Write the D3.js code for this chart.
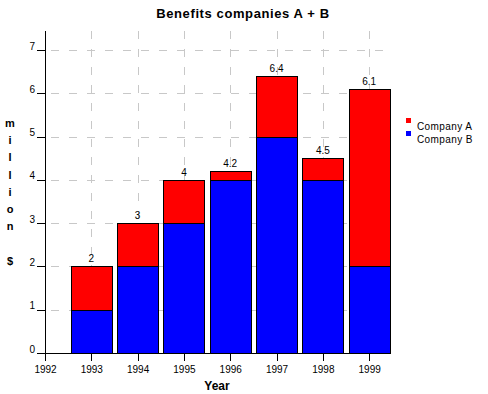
<!DOCTYPE html>
<html lang="en">
<head>
<meta charset="utf-8" />
<title>Benefits companies A + B</title>
<script src="https://cdn.jsdelivr.net/npm/d3@7"></script>
<style>
    body { margin: 0; background: #fff; }
    svg { display: block; font-family: "Liberation Sans", Arial, sans-serif; }
    .axis path, .axis line { stroke: #000; shape-rendering: crispEdges; }
    .axis text { font-size: 10px; fill: #000; }
    .grid line { stroke: #c8c8c8; stroke-dasharray: 8,10; shape-rendering: crispEdges; }
</style>
</head>
<body>
<svg id="chart" width="488" height="394"></svg>
<script>
// chart data
const years = [1993, 1994, 1995, 1996, 1997, 1998, 1999];
const companyB = [1, 2, 3, 4, 5, 4, 2];
const companyA = [1, 1, 1, 0.2, 1.4, 0.5, 4.1];
const totalLabels = ["2", "3", "4", "4.2", "6.4", "4.5", "6.1"];
const yTicks = [0, 1, 2, 3, 4, 5, 6, 7];
const xTicks = [1992, 1993, 1994, 1995, 1996, 1997, 1998, 1999];
const seriesNames = ["Company A", "Company B"];
const seriesColors = ["#ff0000", "#0000ff"];

const svg = d3.select("#chart");

const x = d3.scaleLinear().domain([1992, 1999.45]).range([45, 390]);
const y = d3.scaleLinear().domain([0, 7]).range([353, 50]);
const bw = (x(1993) - x(1992)) * 0.885;
const axisTop = 31;

// grid (dashed, light gray)
const grid = svg.append("g").attr("class", "grid");
grid.selectAll(".h").data(yTicks.slice(1)).enter().append("line")
    .attr("x1", x(1992)).attr("x2", x.range()[1])
    .attr("y1", d => Math.round(y(d)) + 0.5).attr("y2", d => Math.round(y(d)) + 0.5)
    .attr("stroke-dashoffset", -6);
grid.selectAll(".v").data(xTicks.slice(1)).enter().append("line")
    .attr("x1", d => Math.round(x(d)) + 0.5).attr("x2", d => Math.round(x(d)) + 0.5)
    .attr("y1", axisTop).attr("y2", y(0));

// stacked bars
const rows = years.map((yr, i) => ({ yr, b: companyB[i], a: companyA[i], label: totalLabels[i] }));
const bars = svg.append("g");
bars.selectAll(".b").data(rows).enter().append("rect")
    .attr("x", d => Math.round(x(d.yr) - bw / 2) + 0.5)
    .attr("width", Math.round(bw))
    .attr("y", d => Math.round(y(d.b)) + 0.5)
    .attr("height", d => Math.round(y(0)) - Math.round(y(d.b)))
    .attr("fill", seriesColors[1]).attr("stroke", "#000").attr("shape-rendering", "crispEdges");
bars.selectAll(".a").data(rows).enter().append("rect")
    .attr("x", d => Math.round(x(d.yr) - bw / 2) + 0.5)
    .attr("width", Math.round(bw))
    .attr("y", d => Math.round(y(d.b + d.a)) + 0.5)
    .attr("height", d => Math.round(y(d.b)) - Math.round(y(d.b + d.a)))
    .attr("fill", seriesColors[0]).attr("stroke", "#000").attr("shape-rendering", "crispEdges");
bars.selectAll("text").data(rows).enter().append("text")
    .attr("x", d => x(d.yr))
    .attr("y", d => y(d.b + d.a) - 4)
    .attr("text-anchor", "middle")
    .attr("font-size", 10)
    .text(d => d.label);

// axes
const xAxis = svg.append("g").attr("class", "axis")
    .attr("transform", `translate(0,${Math.round(y(0))})`)
    .call(d3.axisBottom(x).tickValues(xTicks).tickFormat(d3.format("d")).tickSize(8).tickSizeOuter(0));
xAxis.select(".domain").attr("d", `M${x(1992)},0.5H${x.range()[1]}`);
xAxis.selectAll("text").attr("y", 13).attr("dy", "0.71em");

const yAxis = svg.append("g").attr("class", "axis")
    .attr("transform", `translate(${Math.round(x(1992))},0)`)
    .call(d3.axisLeft(y).tickValues(yTicks).tickFormat(d3.format("d")).tickSize(8).tickSizeOuter(0));
yAxis.select(".domain").attr("d", `M0.5,${axisTop}V${Math.round(y(0)) + 1}`);
yAxis.selectAll("text").attr("x", -10).attr("y", -1).attr("dy", 0);

// title and axis labels
svg.append("text").attr("x", 243).attr("y", 18).attr("text-anchor", "middle")
    .attr("font-size", 13).attr("font-weight", "bold").attr("letter-spacing", 0.6)
    .text("Benefits companies A + B");
svg.append("text").attr("x", 217).attr("y", 390).attr("text-anchor", "middle")
    .attr("font-size", 12).attr("font-weight", "bold").text("Year");
const yLetters = ["m", "i", "l", "l", "i", "o", "n", "", "$"];
svg.append("g").selectAll("text").data(yLetters).enter().append("text")
    .attr("x", 10).attr("y", (d, i) => 127 + i * 17.2)
    .attr("text-anchor", "middle").attr("font-size", 11).attr("font-weight", "bold")
    .text(d => d);

// legend
const legend = svg.append("g");
seriesNames.forEach((name, i) => {
    legend.append("rect").attr("x", 406).attr("y", 118 + i * 13).attr("width", 5).attr("height", 5)
        .attr("fill", seriesColors[i]);
    legend.append("text").attr("x", 417).attr("y", 130 + i * 13)
        .attr("font-size", 10).attr("letter-spacing", 0.4).text(name);
});
</script>
</body>
</html>
